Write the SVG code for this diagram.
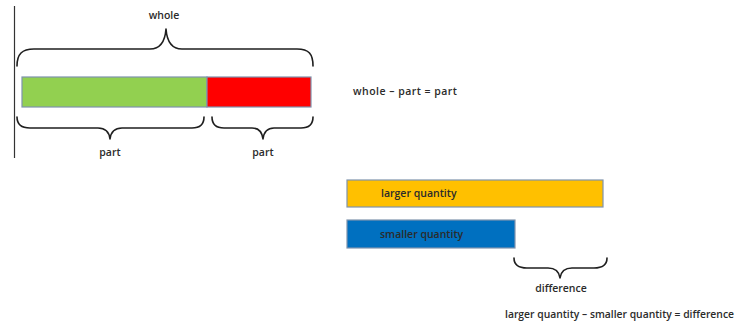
<svg xmlns="http://www.w3.org/2000/svg" width="738" height="324" viewBox="0 0 738 324">
  <style>
    .lbl { font-family: "Open Sans", "DejaVu Sans", sans-serif; font-size: 10.5px; fill: #2b2b2b; font-weight: 600; }
    .brace { fill: none; stroke: #1f1f1f; stroke-width: 1.6; stroke-linecap: round; stroke-linejoin: round; }
    .bar { stroke: #7f93ad; stroke-width: 1.2; }
  </style>
  <rect width="738" height="324" fill="#ffffff"/>

  <!-- left margin rule -->
  <line x1="14.5" y1="6" x2="14.5" y2="158" stroke="#333" stroke-width="1.2"/>

  <!-- part-whole model -->
  <g id="whole-bar">
    <rect class="bar" x="22" y="77" width="185" height="30" fill="#92d050"/>
    <rect class="bar" x="207" y="77" width="104" height="30" fill="#ff0000"/>
  </g>

  <g id="whole-brace">
    <path class="brace" d="M17,66 C17,54 22,49 34,49 L150,49 C160,49 165,42 166,29 C167,42 172,49 182,49 L297,49 C309,49 313,54 313,66"/>
    <text class="lbl" x="164" y="19" text-anchor="middle">whole</text>
  </g>

  <g id="part-left">
    <path class="brace" d="M17,117 C17,124 21,128 30,128 L98,128 C105,128 109,131 110,139 C111,131 115,128 122,128 L192,128 C200,128 204,124 204,117"/>
    <text class="lbl" x="110" y="156" text-anchor="middle">part</text>
  </g>

  <g id="part-right">
    <path class="brace" d="M212,117 C212,124 216,128 224,128 L252,128 C258,128 262,131 263,139 C264,131 268,128 274,128 L301,128 C309,128 313,124 313,117"/>
    <text class="lbl" x="263" y="156" text-anchor="middle">part</text>
  </g>

  <text id="part-equation" class="lbl" x="353" y="95" textLength="104">whole – part = part</text>

  <!-- comparison model -->
  <g id="larger">
    <rect class="bar" x="347" y="180" width="256" height="27" fill="#ffc000"/>
    <text class="lbl" x="381" y="197">larger quantity</text>
  </g>

  <g id="smaller">
    <rect class="bar" x="347" y="220" width="168" height="28" fill="#0070c0"/>
    <text class="lbl" x="380" y="238">smaller quantity</text>
  </g>

  <g id="difference">
    <path class="brace" d="M514,258 C514,265 518,268 527,268 L548,268 C555,268 559,271 560,278 C561,271 565,268 572,268 L594,268 C603,268 607,265 607,258"/>
    <text class="lbl" x="561" y="292" text-anchor="middle">difference</text>
  </g>

  <text id="difference-equation" class="lbl" x="505" y="318" textLength="229" lengthAdjust="spacingAndGlyphs">larger quantity – smaller quantity = difference</text>
</svg>
